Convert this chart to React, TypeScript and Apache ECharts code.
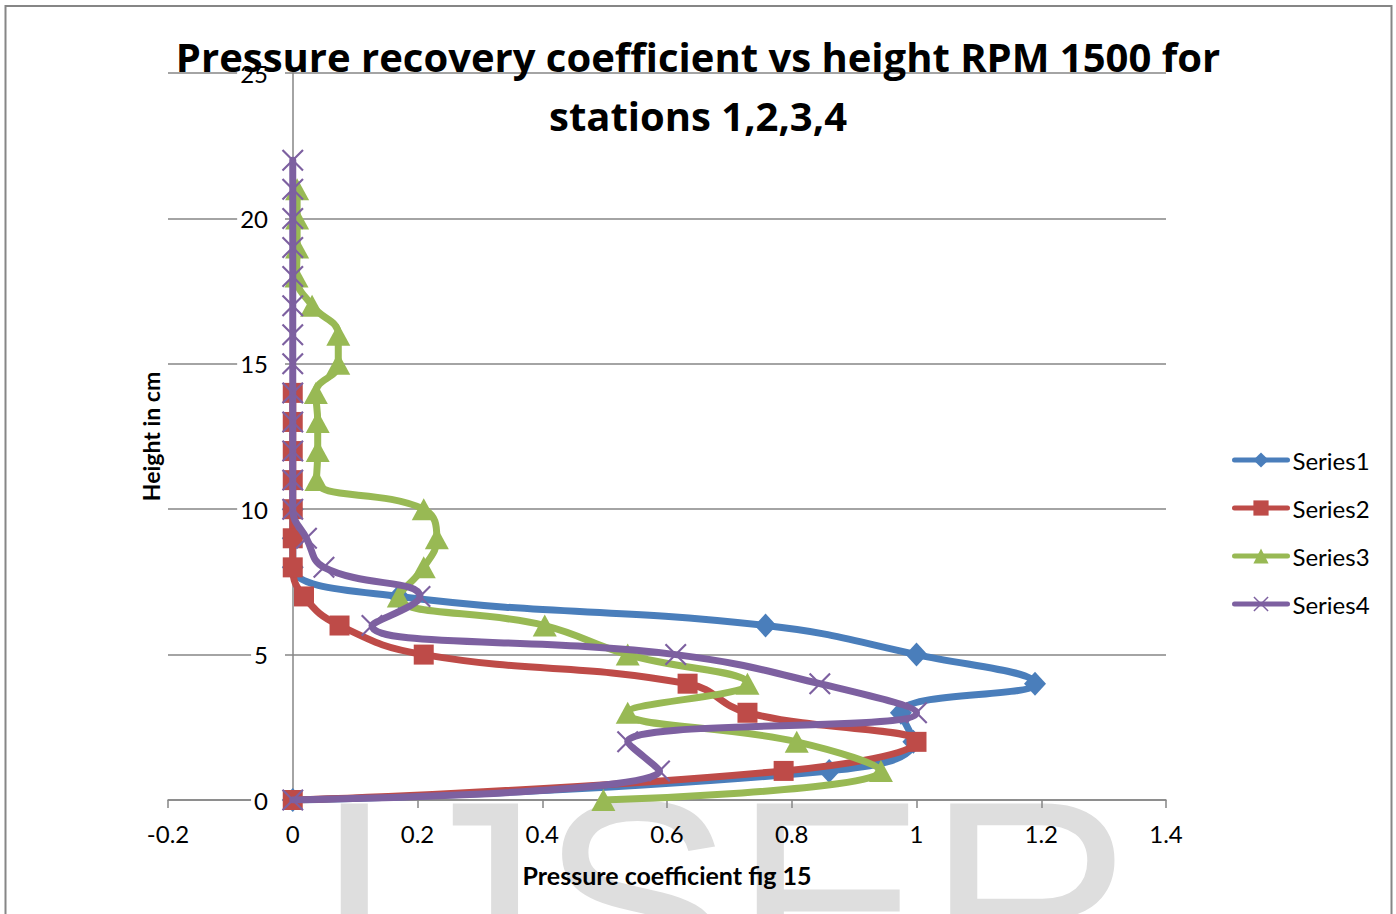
import React, { useEffect, useRef } from "react";
import * as echarts from "echarts";

const seriesNames = ["Series1", "Series2", "Series3", "Series4"];
const colors = ["#4a7ebb", "#be4b48", "#98b954", "#7d60a0"];

// x values (pressure coefficient) listed for heights 0,1,2,... cm
const series1 = [0, 0.86, 0.995, 0.975, 1.19, 1.0, 0.758, 0.17, 0, 0, 0];
const series2 = [0, 0.787, 1.0, 0.729, 0.633, 0.21, 0.075, 0.018, 0, 0, 0, 0, 0, 0, 0];
const series3 = [0.498, 0.943, 0.808, 0.537, 0.729, 0.537, 0.404, 0.17, 0.21, 0.231, 0.21, 0.038, 0.04, 0.04, 0.037, 0.073, 0.073, 0.031, 0.006, 0.007, 0.007, 0.007];
const series4 = [0, 0.588, 0.537, 1.0, 0.845, 0.614, 0.127, 0.204, 0.05, 0.022, 0, 0, 0, 0, 0, 0, 0, 0, 0, 0, 0, 0, 0];

const xTicks = { min: -0.2, max: 1.4, interval: 0.2 };
const yTicks = { min: 0, max: 25, interval: 5 };

const titleText = "Pressure recovery coefficient vs height RPM 1500 for\nstations 1,2,3,4";
const xName = "Pressure coefficient fig 15";
const yName = "Height in cm";
const watermark = "IJSER";

const symbols = [
  "diamond",
  "rect",
  "triangle",
  "path://M0,1.1 L1.1,0 L8,6.9 L14.9,0 L16,1.1 L9.1,8 L16,14.9 L14.9,16 L8,9.1 L1.1,16 L0,14.9 L6.9,8 Z",
];
const symbolSizes: any[] = [[22, 24], 20, [24, 22], 22];

const FONT = "Lato";
const GRID_COLOR = "#868686";
const LINE_W = 7;

export default function App() {
  const ref = useRef<HTMLDivElement>(null);
  useEffect(() => {
    if (!ref.current) return;
    const chart = echarts.init(ref.current, null, { renderer: "svg" });
    const all = [series1, series2, series3, series4];
    const option: any = {
      animation: false,
      backgroundColor: "#ffffff",
      title: {
        text: titleText,
        left: "center",
        top: 27,
        padding: 0,
        textStyle: {
          fontFamily: "Open Sans",
          fontWeight: "bold",
          fontSize: 40,
          lineHeight: 59,
          color: "#000",
        },
      },
      legend: {
        orient: "vertical",
        left: 1232,
        top: 448,
        padding: 0,
        itemWidth: 53,
        itemHeight: 19,
        itemGap: 24,
        data: seriesNames,
        lineStyle: { width: 5, cap: "round" },
        textStyle: { fontFamily: FONT, fontSize: 24, color: "#000", lineHeight: 24 },
      },
      grid: { left: 168, right: 230, top: 73, bottom: 114, containLabel: false },
      xAxis: {
        type: "value",
        min: xTicks.min,
        max: xTicks.max,
        interval: xTicks.interval,
        name: xName,
        nameLocation: "middle",
        nameGap: 62,
        nameTextStyle: { fontFamily: FONT, fontWeight: "bold", fontSize: 25, color: "#000" },
        axisLine: { show: true, onZero: false, lineStyle: { color: GRID_COLOR, width: 1.5 } },
        axisTick: { show: true, length: 8, inside: false, lineStyle: { color: GRID_COLOR, width: 1.5 } },
        axisLabel: { fontFamily: FONT, fontSize: 24, color: "#000", margin: 21 },
        splitLine: { show: false },
      },
      yAxis: {
        type: "value",
        min: yTicks.min,
        max: yTicks.max,
        interval: yTicks.interval,
        offset: -125,
        name: yName,
        nameLocation: "middle",
        nameGap: 131,
        nameRotate: 90,
        nameTextStyle: { fontFamily: FONT, fontWeight: "bold", fontSize: 23, color: "#000" },
        axisLine: { show: true, onZero: false, lineStyle: { color: GRID_COLOR, width: 1.5 } },
        axisTick: { show: false },
        axisLabel: {
          fontFamily: FONT,
          fontSize: 24,
          color: "#000",
          margin: 8,
          backgroundColor: "#ffffff",
          padding: [1, 17, 1, 3],
        },
        splitLine: { show: true, lineStyle: { color: GRID_COLOR, width: 1.5 } },
      },
      graphic: [
        {
          type: "text",
          z: -10,
          silent: true,
          x: 314,
          y: 902,
          style: {
            text: watermark,
            fontFamily: "Liberation Sans",
            fontSize: 290,
            fill: "#dedede",
            textAlign: "left",
            textVerticalAlign: "middle",
            verticalAlign: "middle",
          },
        },
        {
          type: "rect",
          z: 100,
          silent: true,
          shape: { x: 5.5, y: 6, width: 1386, height: 1000 },
          style: { fill: "none", stroke: GRID_COLOR, lineWidth: 2 },
        },
      ],
      series: all.map((vals, i) => ({
        name: seriesNames[i],
        type: "line",
        smooth: 0.45,
        symbol: symbols[i],
        symbolSize: symbolSizes[i],
        showAllSymbol: true,
        data: vals.map((v, h) => [v, h]),
        lineStyle: { color: colors[i], width: LINE_W, join: "round", cap: "round" },
        itemStyle: { color: colors[i] },
        z: 3 + i,
      })),
    };
    chart.setOption(option);
    return () => chart.dispose();
  }, []);
  return (
    <div
      ref={ref}
      style={{ position: "fixed", left: 0, top: 0, width: 1396, height: 914, background: "#fff" }}
    />
  );
}
